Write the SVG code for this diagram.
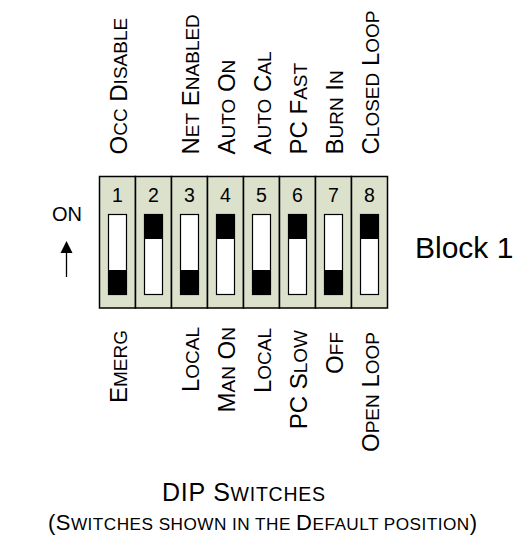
<svg xmlns="http://www.w3.org/2000/svg" width="517" height="537" viewBox="0 0 517 537">
<style>
text{font-family:"Liberation Sans",Arial,sans-serif;fill:#000}
.lbl{font-size:24px}
.sc{font-size:19px}
.num{font-size:19.5px;text-anchor:middle}
.col{fill:#DCE1CB;stroke:#000;stroke-width:1.5}
.slot{fill:#fff;stroke:#000;stroke-width:1.2}
.knob{fill:#000}
</style>
<rect width="517" height="537" fill="#fff"/>

<g id="on-indicator">
<text x="67" y="221" style="font-size:20px;text-anchor:middle">ON</text>
</g>
<g id="connectors">
<line x1="66.5" y1="277" x2="66.5" y2="252" stroke="#000" stroke-width="1.3"/>
<path d="M60.5,253 L66.5,241 L72.5,253 Z" fill="#000"/>
</g>

<g id="sw1"><rect class="col" x="99.5" y="176.5" width="36" height="131.5"/><text class="num" x="117.5" y="202">1</text><rect class="slot" x="108.5" y="214.5" width="18" height="80"/><rect class="knob" x="108.5" y="270" width="18" height="24.5"/></g>
<g id="sw2"><rect class="col" x="135.5" y="176.5" width="36" height="131.5"/><text class="num" x="153.5" y="202">2</text><rect class="slot" x="144.5" y="214.5" width="18" height="80"/><rect class="knob" x="144.5" y="214.5" width="18" height="24.5"/></g>
<g id="sw3"><rect class="col" x="171.5" y="176.5" width="36" height="131.5"/><text class="num" x="189.5" y="202">3</text><rect class="slot" x="180.5" y="214.5" width="18" height="80"/><rect class="knob" x="180.5" y="270" width="18" height="24.5"/></g>
<g id="sw4"><rect class="col" x="207.5" y="176.5" width="36" height="131.5"/><text class="num" x="225.5" y="202">4</text><rect class="slot" x="216.5" y="214.5" width="18" height="80"/><rect class="knob" x="216.5" y="214.5" width="18" height="24.5"/></g>
<g id="sw5"><rect class="col" x="243.5" y="176.5" width="36" height="131.5"/><text class="num" x="261.5" y="202">5</text><rect class="slot" x="252.5" y="214.5" width="18" height="80"/><rect class="knob" x="252.5" y="270" width="18" height="24.5"/></g>
<g id="sw6"><rect class="col" x="279.5" y="176.5" width="36" height="131.5"/><text class="num" x="297.5" y="202">6</text><rect class="slot" x="288.5" y="214.5" width="18" height="80"/><rect class="knob" x="288.5" y="214.5" width="18" height="24.5"/></g>
<g id="sw7"><rect class="col" x="315.5" y="176.5" width="36" height="131.5"/><text class="num" x="333.5" y="202">7</text><rect class="slot" x="324.5" y="214.5" width="18" height="80"/><rect class="knob" x="324.5" y="270" width="18" height="24.5"/></g>
<g id="sw8"><rect class="col" x="351.5" y="176.5" width="36" height="131.5"/><text class="num" x="369.5" y="202">8</text><rect class="slot" x="360.5" y="214.5" width="18" height="80"/><rect class="knob" x="360.5" y="214.5" width="18" height="24.5"/></g>

<g id="block-label"><text x="415" y="258" style="font-size:30px">Block 1</text></g>

<g id="top-labels" class="lbl">
<text transform="translate(126.5,154.5) rotate(-90)">O<tspan class="sc">CC</tspan> D<tspan class="sc">ISABLE</tspan></text>
<text transform="translate(198.5,154.5) rotate(-90)">N<tspan class="sc">ET</tspan> E<tspan class="sc">NABLED</tspan></text>
<text transform="translate(234.5,154.5) rotate(-90)">A<tspan class="sc">UTO</tspan> O<tspan class="sc">N</tspan></text>
<text transform="translate(270.5,154.5) rotate(-90)">A<tspan class="sc">UTO</tspan> C<tspan class="sc">AL</tspan></text>
<text transform="translate(306.5,154.5) rotate(-90)">PC F<tspan class="sc">AST</tspan></text>
<text transform="translate(342.5,154.5) rotate(-90)">B<tspan class="sc">URN</tspan> I<tspan class="sc">N</tspan></text>
<text transform="translate(378.5,154.5) rotate(-90)">C<tspan class="sc">LOSED</tspan> L<tspan class="sc">OOP</tspan></text>
</g>

<g id="bottom-labels" class="lbl" style="text-anchor:end">
<text transform="translate(126.5,330) rotate(-90)">E<tspan class="sc">MERG</tspan></text>
<text transform="translate(198.5,327) rotate(-90)">L<tspan class="sc">OCAL</tspan></text>
<text transform="translate(234.5,327) rotate(-90)">M<tspan class="sc">AN</tspan> O<tspan class="sc">N</tspan></text>
<text transform="translate(270.5,328) rotate(-90)">L<tspan class="sc">OCAL</tspan></text>
<text transform="translate(306.5,330) rotate(-90)">PC S<tspan class="sc">LOW</tspan></text>
<text transform="translate(342.5,332) rotate(-90)">O<tspan class="sc">FF</tspan></text>
<text transform="translate(378.5,332) rotate(-90)">O<tspan class="sc">PEN</tspan> L<tspan class="sc">OOP</tspan></text>
</g>

<g id="caption">
<text x="162" y="501" textLength="163" lengthAdjust="spacing" style="font-size:25px">DIP S<tspan style="font-size:19.5px">WITCHES</tspan></text>
<text x="48" y="530" textLength="429" lengthAdjust="spacing" style="font-size:22px">(S<tspan style="font-size:17.2px">WITCHES SHOWN IN THE </tspan>D<tspan style="font-size:17.2px">EFAULT POSITION</tspan>)</text>
</g>
</svg>
